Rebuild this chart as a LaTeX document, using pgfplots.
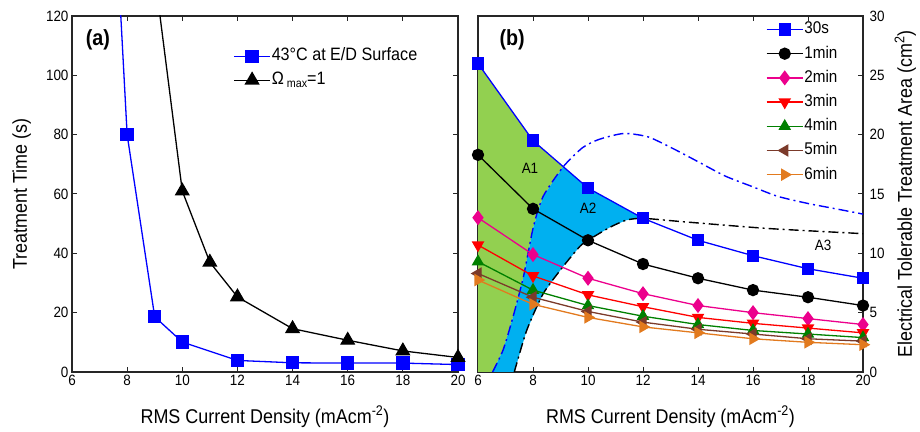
\documentclass[border=0pt]{standalone}
\usepackage{fontspec}
\setmainfont{Liberation Sans}[FakeStretch=0.9]
\usepackage{pgfplots}
\pgfplotsset{compat=1.18}

\definecolor{fillgreen}{HTML}{92D050}
\definecolor{fillcyan}{HTML}{00B0F0}
\definecolor{mygreen}{HTML}{008000}
\definecolor{mybrown}{HTML}{7B3A2A}
\definecolor{myorange}{HTML}{E27A1E}

\pgfplotsset{
  panel/.style={
    scale only axis, height=356bp,
    xmin=6, xmax=20, xtick={6,8,...,20},
    tick align=inside, major tick length=5bp,
    axis line style={line width=1.2bp, black!85},
    every tick/.style={line width=1bp, black!85},
    tick label style={font=\fontsize{15}{18}\selectfont},
    label style={font=\fontsize{20}{24}\selectfont},
    /pgf/number format/assume math mode=true,
    xlabel={RMS Current Density (mAcm\textsuperscript{-2})},
    xlabel style={at={(axis description cs:0.5,-0.125)},anchor=center},
    legend cell align=left,
    legend image code/.code={\draw[mark repeat=2,mark phase=2] plot coordinates {(0bp,0bp) (18bp,0bp) (36bp,0bp)};},
  },
  ser/.style={line width=1.3bp},
  dashdot/.style={line width=1.4bp, dash pattern=on 10bp off 4bp on 2bp off 4bp, forget plot},
}

\begin{document}
\begin{tikzpicture}
\path[use as bounding box] (0,0) rectangle (920bp,432bp);

% (a) treatment time
\begin{axis}[panel, width=386bp, at={(72bp,60bp)}, anchor=south west,
    ymin=0, ymax=120, ytick={0,20,...,120},
    ylabel={Treatment Time (s)},
    ylabel style={at={(axis description cs:-0.13,0.5)},anchor=center},
    legend style={at={(0.41,0.92)}, anchor=north west, draw=none, fill=none,
      font=\fontsize{18}{21}\selectfont,
      nodes={inner sep=1bp, text height=13bp, text depth=4bp}, row sep=5bp}]
\addplot[ser, blue, mark=square*, mark size=6bp] coordinates {
  (7.5,167) (8,80) (9,18.6) (10,10.1) (12,3.9) (14,3.1) (16,3.0) (18,3.0) (20,2.5)};
\addlegendentry{43°C at E/D Surface}
\addplot[ser, black, mark=triangle*, mark size=7.5bp] coordinates {
  (9,134) (10,61) (11,37) (12,25.3) (14,14.6) (16,10.7) (18,7.1) (20,4.9)};
\addlegendentry{Ω\,\raisebox{-0.35ex}{\fontsize{12}{14}\selectfont max}=1}
\node[font=\bfseries\fontsize{22}{26}\selectfont] at (axis cs:6.94,112) {(a)};
\end{axis}

% (b) tolerable area
\begin{axis}[panel, width=385bp, at={(478bp,60bp)}, anchor=south west,
    ymin=0, ymax=30, ytick={0,5,...,30}, yticklabel pos=right,
    yticklabel style={xshift=3bp},
    ylabel={Electrical Tolerable Treatment Area (cm\textsuperscript{2})},
    ylabel style={at={(axis description cs:1.11,0.5)},anchor=center},
    legend style={at={(0.74,0.995)}, anchor=north west, draw=none, fill=none,
      font=\fontsize{17}{20}\selectfont,
      nodes={inner sep=1bp, text height=13bp, text depth=4bp}, row sep=5.2bp}]
% A1
\addplot[fill=fillgreen, draw=none, forget plot] coordinates {
  (6,0) (6,26.0) (8,19.5) (9.1,17.3) (8.37,14.8) (8.01,12.2) (7.65,8.0)
  (7.28,4.7) (6.92,1.9) (6.53,0) (6,0)};
% A2
\addplot[fill=fillcyan, draw=none, forget plot] coordinates {
  (6.53,0) (6.92,1.9) (7.28,4.7) (7.65,8.0) (8.01,12.2) (8.37,14.8) (9.1,17.3)
  (10,15.5) (12,12.95) (11.4,12.8) (10.8,12.2) (10,11.1) (9.71,10.6) (9.1,8.9)
  (8.37,6.6) (7.77,3.5) (7.32,0) (6.53,0)};
% boundary curves
\addplot[dashdot, blue, smooth, tension=0.4] coordinates {
  (6.53,0) (6.92,1.9) (7.28,4.7) (7.65,8.0) (8.01,12.2) (8.37,14.8) (9.1,17.3)
  (9.8,18.9) (10.4,19.6) (11.3,20.1) (12.2,19.8) (13.2,18.7) (14.1,17.6)
  (15.0,16.5) (16,15.6) (16.9,14.8) (18,14.2) (18.9,13.8) (19.8,13.4) (20,13.3)};
\addplot[dashdot, black, smooth, tension=0.4] coordinates {
  (7.32,0) (7.77,3.5) (8.37,6.6) (9.1,8.9) (9.71,10.6) (10,11.1) (10.8,12.2)
  (11.4,12.8) (12,12.95) (13.47,12.66) (16.5,12.1) (19.65,11.7) (20,11.65)};
% series
\addplot[ser, blue, mark=square*, mark size=5.5bp] coordinates {
  (6,26.0) (8,19.5) (10,15.5) (12,12.95) (14,11.1) (16,9.8) (18,8.7) (20,7.9)};
\addlegendentry{30s}
\addplot[ser, black, mark=*, mark size=5.5bp] coordinates {
  (6,18.3) (8,13.75) (10,11.1) (12,9.1) (14,7.9) (16,6.9) (18,6.3) (20,5.6)};
\addlegendentry{1min}
\addplot[ser, magenta, mark=diamond*, mark size=6.5bp] coordinates {
  (6,13.0) (8,9.9) (10,7.9) (12,6.6) (14,5.6) (16,5.0) (18,4.5) (20,4.0)};
\addlegendentry{2min}
\addplot[ser, red, mark=triangle*, mark size=6bp, mark options={rotate=180}] coordinates {
  (6,10.7) (8,8.1) (10,6.5) (12,5.5) (14,4.6) (16,4.1) (18,3.7) (20,3.3)};
\addlegendentry{3min}
\addplot[ser, mygreen, mark=triangle*, mark size=6bp] coordinates {
  (6,9.3) (8,6.9) (10,5.6) (12,4.7) (14,4.0) (16,3.5) (18,3.2) (20,2.9)};
\addlegendentry{4min}
\addplot[ser, mybrown, mark=triangle*, mark size=6bp, mark options={rotate=90}] coordinates {
  (6,8.3) (8,6.3) (10,5.1) (12,4.2) (14,3.6) (16,3.2) (18,2.8) (20,2.6)};
\addlegendentry{5min}
\addplot[ser, myorange, mark=triangle*, mark size=6bp, mark options={rotate=-90}] coordinates {
  (6,7.75) (8,5.7) (10,4.6) (12,3.8) (14,3.3) (16,2.8) (18,2.5) (20,2.3)};
\addlegendentry{6min}
\node[font=\bfseries\fontsize{22}{26}\selectfont] at (axis cs:7.24,28.0) {(b)};
\node[font=\fontsize{15}{18}\selectfont] at (axis cs:7.89,17.2) {A1};
\node[font=\fontsize{15}{18}\selectfont] at (axis cs:10.0,13.8) {A2};
\node[font=\fontsize{15}{18}\selectfont] at (axis cs:18.55,10.7) {A3};
\end{axis}
\end{tikzpicture}
\end{document}
